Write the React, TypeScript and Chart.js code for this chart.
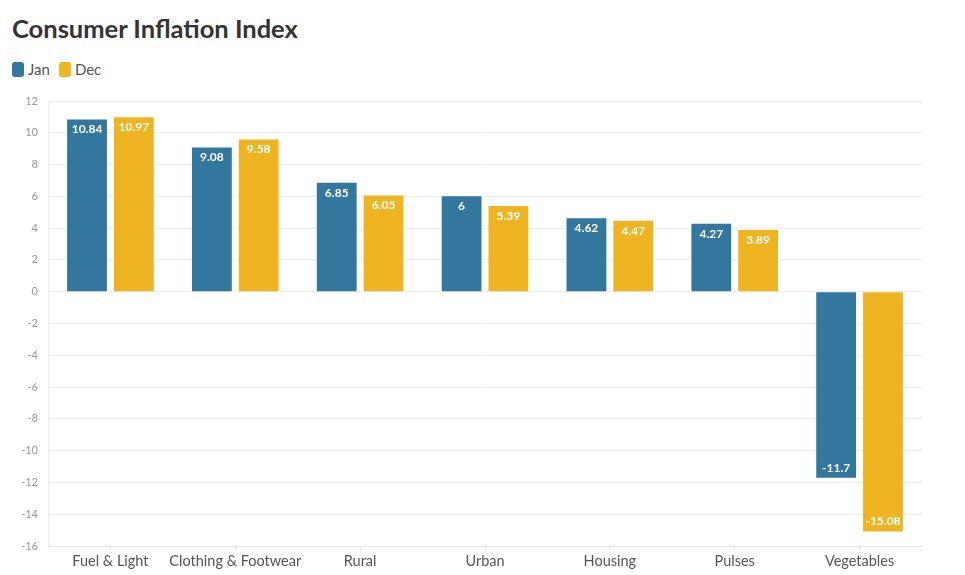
import React, { useEffect, useRef } from "react";
import { Chart, registerables } from "chart.js";

Chart.register(...registerables);

const categories = ["Fuel & Light", "Clothing & Footwear", "Rural", "Urban", "Housing", "Pulses", "Vegetables"];
const janValues = [10.84, 9.08, 6.85, 6, 4.62, 4.27, -11.7];
const decValues = [10.97, 9.58, 6.05, 5.39, 4.47, 3.89, -15.08];
const seriesNames = ["Jan", "Dec"];
const colors = ["#33769e", "#efb421"];
const FONT = "Lato, 'Open Sans', sans-serif";

const labelPlugin = {
  id: "barLabels",
  afterDatasetsDraw(chart: any) {
    const ctx = chart.ctx;
    ctx.save();
    ctx.fillStyle = "#ffffff";
    ctx.font = `bold 12px ${FONT}`;
    ctx.textAlign = "center";
    ctx.textBaseline = "middle";
    chart.data.datasets.forEach((ds: any, di: number) => {
      const meta = chart.getDatasetMeta(di);
      meta.data.forEach((el: any, i: number) => {
        const v = ds.data[i];
        const y = v >= 0 ? el.y + 10 : el.y - 10;
        ctx.fillText(String(v), el.x, y);
      });
    });
    ctx.restore();
  },
};

export default function App() {
  const ref = useRef<HTMLCanvasElement | null>(null);
  useEffect(() => {
    if (!ref.current) return;
    const chart = new Chart(ref.current, {
      type: "bar",
      data: {
        labels: categories,
        datasets: [
          { label: seriesNames[0], data: janValues, backgroundColor: colors[0], categoryPercentage: 0.75, barPercentage: 0.85 },
          { label: seriesNames[1], data: decValues, backgroundColor: colors[1], categoryPercentage: 0.75, barPercentage: 0.85 },
        ],
      },
      options: {
        animation: false,
        responsive: false,
        maintainAspectRatio: false,
        layout: { padding: { top: 101, right: 43, left: 0, bottom: 0 } },
        plugins: { legend: { display: false }, title: { display: false }, tooltip: { enabled: false } },
        scales: {
          x: {
            grid: { display: true, drawOnChartArea: false, offset: false, tickLength: 5, color: "#e6e6e6" },
            border: { color: "#e6e6e6" },
            ticks: { color: "#555555", font: { family: FONT, size: 14.5 }, padding: 2, maxRotation: 0, minRotation: 0, autoSkip: false },
            afterFit: (s: any) => { s.height = 29; },
          },
          y: {
            min: -16,
            max: 12,
            ticks: { stepSize: 2, color: "#999999", font: { family: FONT, size: 11 }, padding: 10 },
            grid: { color: "#eeeeee", drawTicks: false },
            border: { color: "#eeeeee" },
            afterFit: (s: any) => { s.width = 48; },
          },
        },
      },
      plugins: [labelPlugin],
    });
    return () => chart.destroy();
  }, []);

  return (
    <div style={{ position: "absolute", left: 0, top: 0, width: 965, height: 575, background: "#fff", fontFamily: FONT }}>
      <div style={{ position: "absolute", left: 12, top: 12, fontSize: 25.5, fontWeight: 700, color: "#333333", lineHeight: "32px" }}>
        Consumer Inflation Index
      </div>
      <div style={{ position: "absolute", left: 12, top: 60, display: "flex", alignItems: "center", fontSize: 15, color: "#555555", lineHeight: "18px" }}>
        <span style={{ display: "inline-block", width: 12, height: 15, borderRadius: 3, background: colors[0], marginRight: 4 }} />
        <span style={{ marginRight: 9 }}>{seriesNames[0]}</span>
        <span style={{ display: "inline-block", width: 12, height: 15, borderRadius: 3, background: colors[1], marginRight: 4 }} />
        <span>{seriesNames[1]}</span>
      </div>
      <canvas ref={ref} width={965} height={575} style={{ position: "absolute", left: 0, top: 0, width: 965, height: 575 }} />
    </div>
  );
}
